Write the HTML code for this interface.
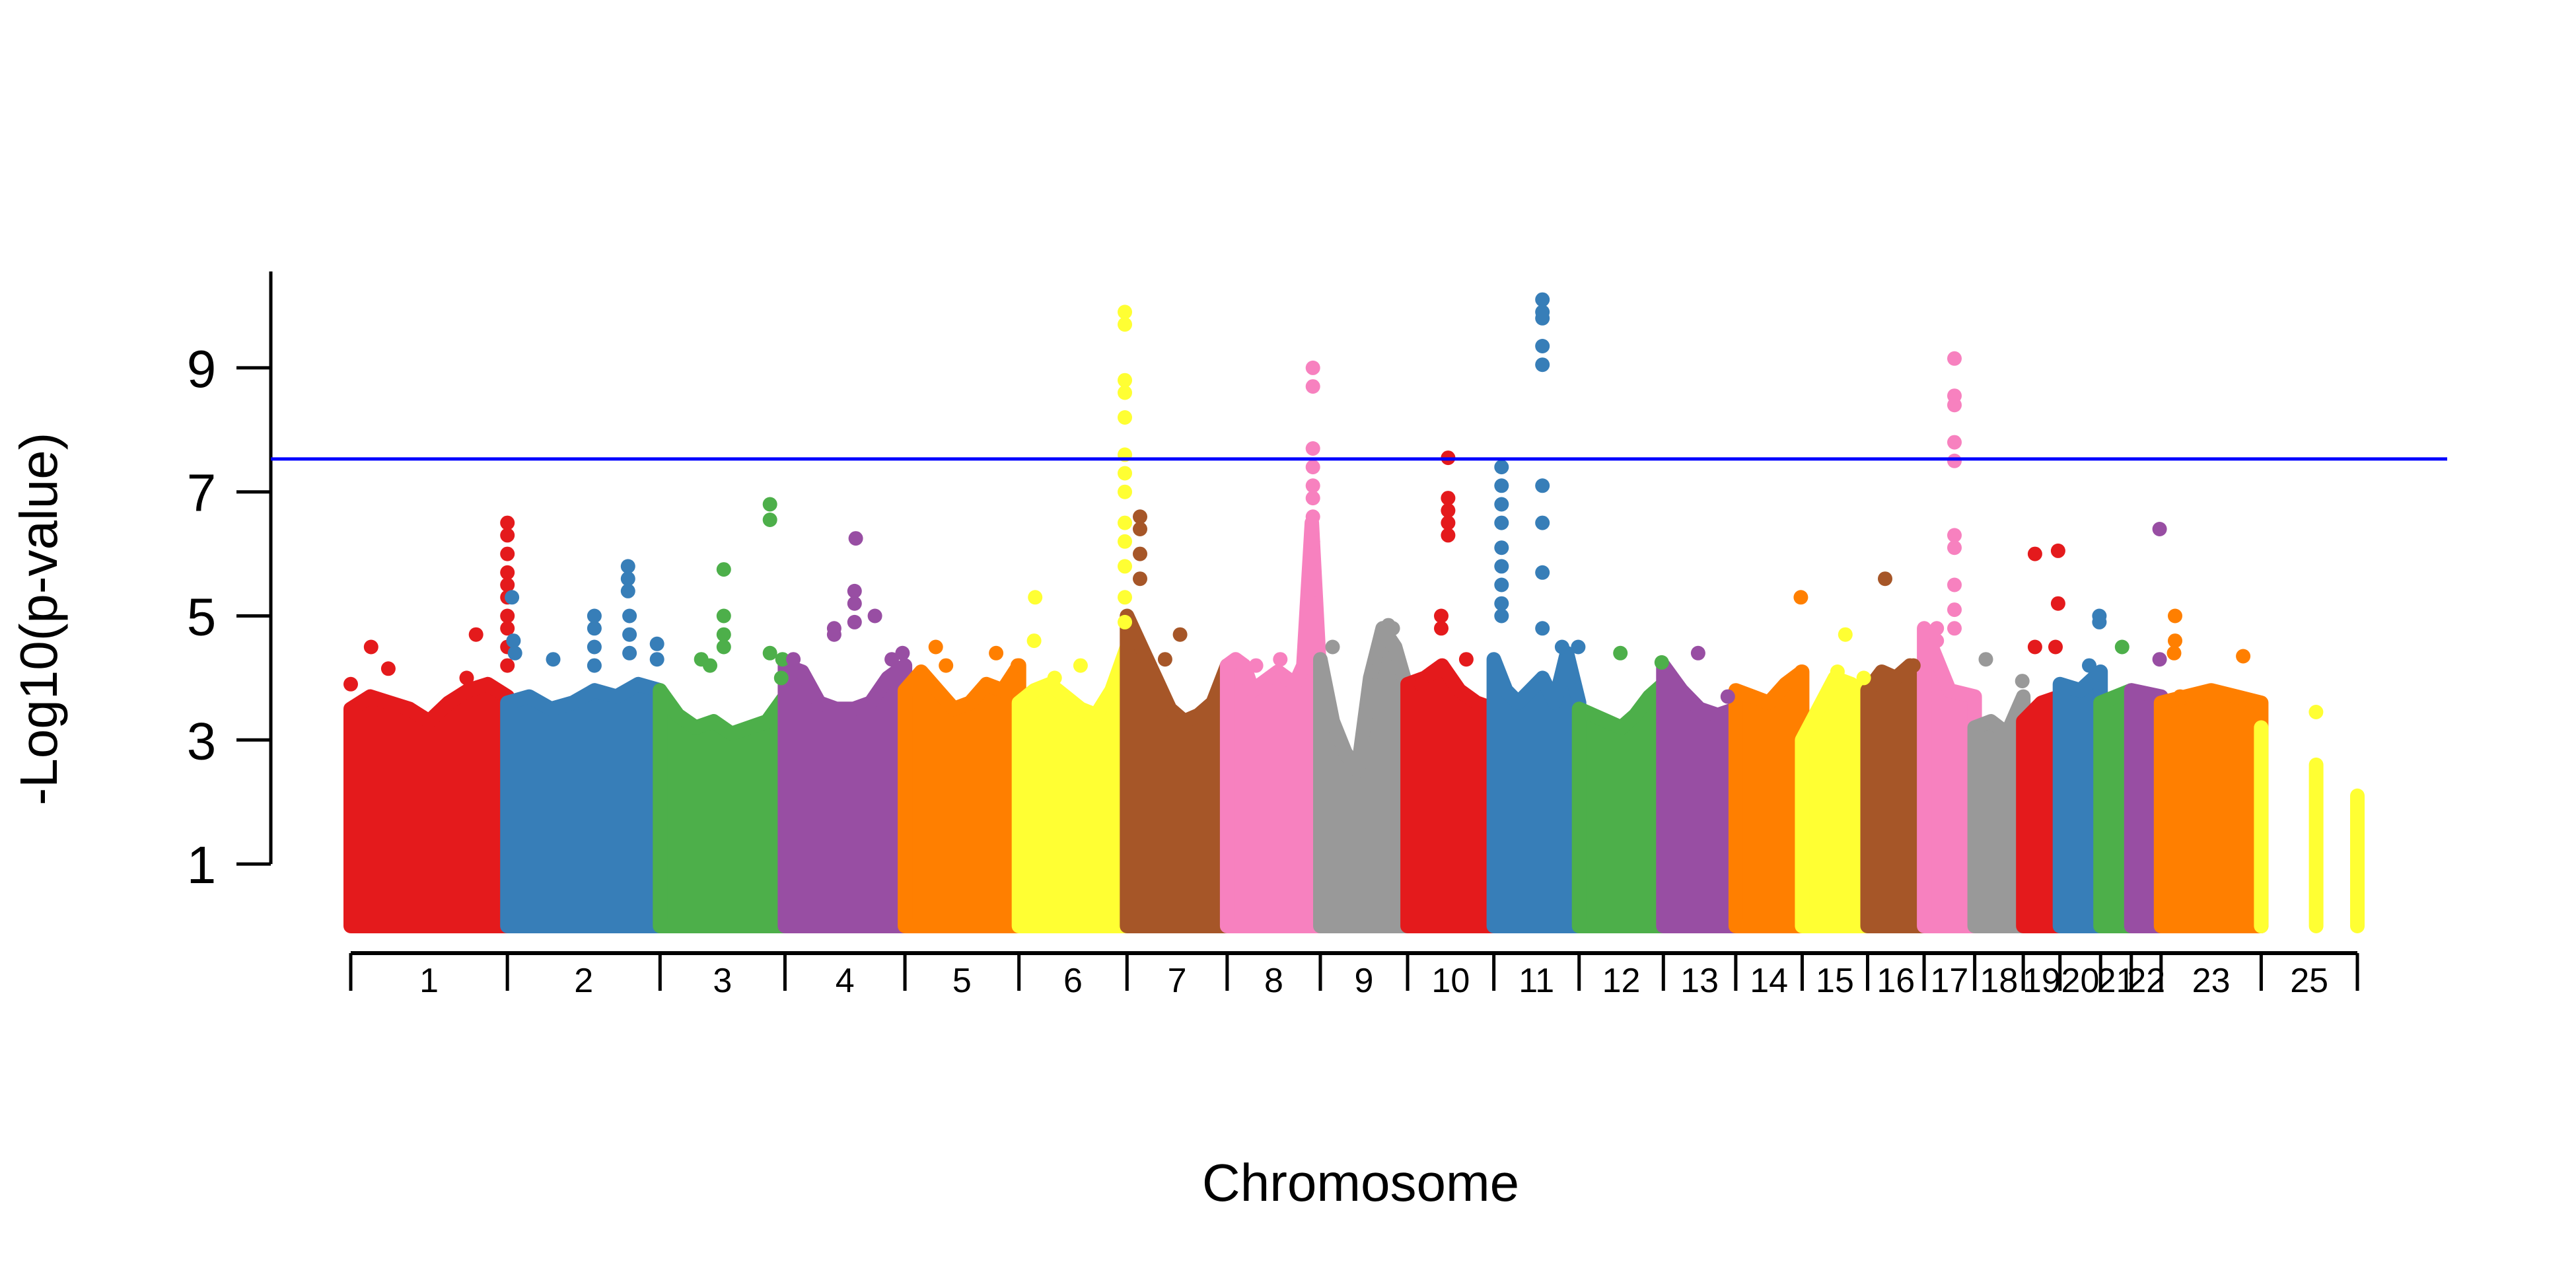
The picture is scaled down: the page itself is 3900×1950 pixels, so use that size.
<!DOCTYPE html>
<html><head><meta charset="utf-8"><style>
html,body{margin:0;padding:0;background:#fff;}
svg{display:block;}
text{font-family:"Liberation Sans",Arial,sans-serif;fill:#000;}
</style></head><body>
<svg id="chart" width="3900" height="1950" viewBox="0 0 3900 1950" xmlns="http://www.w3.org/2000/svg">
<g id="bulk"></g>
<g id="peaks"></g>
<g id="yaxis"></g>
<g id="xaxis"></g>
<text x="0" y="0" font-size="80" text-anchor="middle" transform="translate(86,937) rotate(-90)">-Log10(p-value)</text>
<text x="2060" y="1818" font-size="80" text-anchor="middle">Chromosome</text>
</svg>
<script>
const chrLabels = ["1","2","3","4","5","6","7","8","9","10","11","12","13","14","15","16","17","18","19","20","21","22","23","25"];
const chrLengths = [158,154,126,121,115,109,101,94,88,87,86,85,73,67,66,57,51,49,37,41,31,30,101,97];
const chrColors = ["#E41A1C","#377EB8","#4DAF4A","#984EA3","#FF7F00","#FFFF33","#A65628","#F781BF","#999999","#E41A1C","#377EB8","#4DAF4A","#984EA3","#FF7F00","#FFFF33","#A65628","#F781BF","#999999","#E41A1C","#377EB8","#4DAF4A","#984EA3","#FF7F00","#FFFF33"];
// upper envelope of dense SNP mass, sampled evenly along each chromosome (0 = no SNPs)
const envelopes = [
 [3.5,3.7,3.6,3.5,3.3,3.6,3.8,3.9,3.7],
 [3.6,3.7,3.5,3.6,3.8,3.7,3.9,3.8],
 [3.8,3.4,3.2,3.3,3.1,3.2,3.3,3.7],
 [4.2,4.1,3.6,3.5,3.5,3.6,4.0,4.2],
 [3.8,4.1,3.8,3.5,3.6,3.9,3.8,4.2],
 [3.6,3.8,3.9,3.7,3.5,3.4,3.8,4.5],
 [5.0,4.5,4.0,3.5,3.3,3.4,3.6,4.2],
 [4.2,4.3,4.2,3.8,3.9,4.0,4.1,4.0,3.9,4.2,6.5,3.9],
 [4.3,3.3,2.8,2.5,4.0,4.8,4.5,3.8],
 [3.9,4.0,4.2,3.8,3.6,3.5],
 [4.3,3.8,3.6,3.8,4.0,3.6,4.4,3.6],
 [3.5,3.4,3.3,3.2,3.4,3.7,3.9],
 [4.2,3.8,3.5,3.4,3.5],
 [3.8,3.7,3.6,3.9,4.1],
 [3.0,3.5,4.0,3.9,3.7],
 [3.8,4.1,4.0,4.2,3.8],
 [4.8,3.8,3.7],
 [3.2,3.3,3.1,3.7],
 [3.3,3.6,3.7],
 [3.9,3.8,4.1],
 [3.6,3.8],
 [3.8,3.7],
 [3.6,3.7,3.8,3.7,3.6],
 [3.2,0,0,0,2.6,0,0,2.1]
];
// notable SNPs: chromosome index, relative position, -log10(p)
const peakChr = [0,0,0,0,0,0,0,0,0,0,0,0,0,0,0, 1,1,1,1,1,1,1,1,1,1,1,1,1,1,1,1, 2,2,2,2,2,2,2,2,2,2,2, 3,3,3,3,3,3,3,3,3,3, 4,4,4,4, 5,5,5,5,5,5,5,5,5,5,5,5,5,5,5,5,5, 6,6,6,6,6,6, 7,7,7,7,7,7,7,7,7,7,7,7,7, 8,8,8,8, 9,9,9,9,9,9,9,9,9, 10,10,10,10,10,10,10,10,10,10,10,10,10,10,10,10,10,10,10,10, 11,11, 12,12, 13,13, 14,14,14, 15,15, 16,16,16,16,16,16,16,16,16,16,16,16, 17,17, 18,18,18,18,18, 19,19,19, 20, 21,21, 22,22,22,22,22, 23];
const peakPos = [0.13,0.0,0.24,0.74,0.8,1.0,1.0,1.0,1.0,1.0,1.0,1.0,1.0,1.0,1.0, 0.03,0.04,0.05,0.3,0.57,0.57,0.57,0.57,0.79,0.79,0.79,0.8,0.8,0.8,0.98,0.98, 0.33,0.4,0.51,0.51,0.51,0.51,0.88,0.88,0.88,0.98,0.97, 0.07,0.41,0.41,0.59,0.58,0.58,0.58,0.75,0.89,0.98, 0.27,0.36,0.8,0.99, 0.15,0.14,0.33,0.57,0.98,0.98,0.98,0.98,0.98,0.98,0.98,0.98,0.98,0.98,0.98,0.98,0.98, 0.13,0.13,0.13,0.13,0.53,0.38, 0.92,0.92,0.92,0.92,0.92,0.92,0.92,0.92,0.92,0.92,0.92,0.57,0.31, 0.14,0.78,0.83,0.59, 0.47,0.47,0.47,0.47,0.47,0.39,0.39,0.68,0.16, 0.09,0.09,0.09,0.09,0.09,0.09,0.09,0.09,0.09,0.57,0.57,0.57,0.57,0.57,0.57,0.57,0.57,0.57,0.8,0.99, 0.49,0.98, 0.48,0.89, 0.98,0.99, 0.66,0.54,0.94, 0.31,0.81, 0.6,0.6,0.6,0.6,0.6,0.6,0.6,0.6,0.6,0.6,0.25,0.25, 0.23,0.98, 0.32,0.95,0.95,0.32,0.88, 0.97,0.97,0.72, 0.7, 0.95,0.95, 0.14,0.14,0.13,0.19,0.82, 0.57];
const peakVal = [4.5,3.9,4.15,4.0,4.7,6.5,6.3,6.0,5.7,5.5,5.3,5.0,4.8,4.5,4.2, 5.3,4.6,4.4,4.3,5.0,4.8,4.5,4.2,5.8,5.6,5.4,5.0,4.7,4.4,4.55,4.3, 4.3,4.2,5.75,5.0,4.7,4.5,6.8,6.55,4.4,4.3,4.0, 4.3,4.8,4.7,6.25,5.4,5.2,4.9,5.0,4.3,4.4, 4.5,4.2,4.4,4.2, 5.3,4.6,4.0,4.2,9.9,9.7,8.8,8.6,8.2,7.6,7.3,7.0,6.5,6.2,5.8,5.3,4.9, 6.6,6.4,6.0,5.6,4.7,4.3, 9.0,8.7,7.7,7.4,7.1,6.9,6.6,6.2,5.7,5.2,4.8,4.3,4.2, 4.5,4.85,4.8,4.1, 7.55,6.9,6.7,6.5,6.3,5.0,4.8,4.3,3.9, 7.4,7.1,6.8,6.5,6.1,5.8,5.5,5.2,5.0,10.1,9.9,9.8,9.35,9.05,7.1,6.5,5.7,4.8,4.5,4.5, 4.4,4.25, 4.4,3.7, 5.3,4.1, 4.7,4.1,4.0, 5.6,4.2, 9.15,8.55,8.4,7.8,7.5,6.3,6.1,5.5,5.1,4.8,4.8,4.6, 4.3,3.95, 6.0,6.05,5.2,4.5,4.5, 5.0,4.9,4.2, 4.5, 6.4,4.3, 5.0,4.6,4.4,3.7,4.35, 3.45];
const yTicks = [1,3,5,7,9];
const threshold = 7.53;

const NS = "http://www.w3.org/2000/svg";
const X0 = 531, X1 = 3569, Y0 = 1402, PPU = 93.9, R = 11;
const total = chrLengths.reduce((a,b)=>a+b,0);
const cumStart = [];
{let c=0; for (const l of chrLengths){cumStart.push(c); c+=l;}}
function xScale(g){return X0 + g/total*(X1-X0);}
function yScale(v){return Y0 - v*PPU;}
function mk(tag, attrs, parent){const e=document.createElementNS(NS,tag); for(const k in attrs) e.setAttribute(k,attrs[k]); parent.appendChild(e); return e;}

const bulk = document.getElementById('bulk');
envelopes.forEach((env, ci) => {
  const n = env.length;
  let run = [];
  const flush = () => {
    if (!run.length) return;
    const pts = [];
    pts.push([run[0][0], yScale(0)]);
    run.forEach(p => pts.push(p));
    pts.push([run[run.length-1][0], yScale(0)]);
    const poly = mk('polygon', {points: pts.map(p=>p[0].toFixed(1)+','+p[1].toFixed(1)).join(' '), fill: chrColors[ci], stroke: chrColors[ci], 'stroke-width': 2*R, 'stroke-linejoin':'round'}, bulk);
    
    
    run = [];
  };
  env.forEach((v, i) => {
    if (v <= 0) { flush(); return; }
    const g = cumStart[ci] + (n === 1 ? 0.5 : i/(n-1)) * chrLengths[ci];
    run.push([xScale(g), yScale(v)]);
  });
  flush();
});

const peaks = document.getElementById('peaks');
peakChr.forEach((ci, i) => {
  const g = cumStart[ci] + peakPos[i]*chrLengths[ci];
  const c = mk('circle', {cx: xScale(g).toFixed(1), cy: yScale(peakVal[i]).toFixed(1), r: R, fill: chrColors[ci]}, peaks);
  
  
});

// threshold line
const th = mk('line', {x1: 410, x2: 3705, y1: yScale(threshold), y2: yScale(threshold), stroke: '#0000FF', 'stroke-width': 5}, document.getElementById('chart'));



// y axis
const ya = document.getElementById('yaxis');
const yl = mk('line', {x1: 410, x2: 410, y1: 411, y2: yScale(1), stroke: '#000', 'stroke-width': 5}, ya);


yTicks.forEach(t => {
  const tk = mk('line', {x1: 358, x2: 410, y1: yScale(t), y2: yScale(t), stroke: '#000', 'stroke-width': 5}, ya);
  
  
  const lb = mk('text', {x: 305, y: yScale(t)+29, 'font-size': 80, 'text-anchor': 'middle'}, ya);
  lb.textContent = String(t);
  
  
});

// x axis
const xa = document.getElementById('xaxis');
const xl = mk('line', {x1: X0, x2: X1, y1: 1443, y2: 1443, stroke: '#000', 'stroke-width': 6}, xa);


for (let i = 0; i <= chrLengths.length; i++) {
  const g = i < chrLengths.length ? cumStart[i] : total;
  const tk = mk('line', {x1: xScale(g), x2: xScale(g), y1: 1443, y2: 1500, stroke: '#000', 'stroke-width': 5}, xa);
  
  
}
chrLabels.forEach((lab, i) => {
  const mid = cumStart[i] + chrLengths[i]/2;
  const t = mk('text', {x: xScale(mid), y: 1502, 'font-size': 52, 'text-anchor': 'middle'}, xa);
  t.textContent = lab;
  
  
});
</script>
</body></html>
